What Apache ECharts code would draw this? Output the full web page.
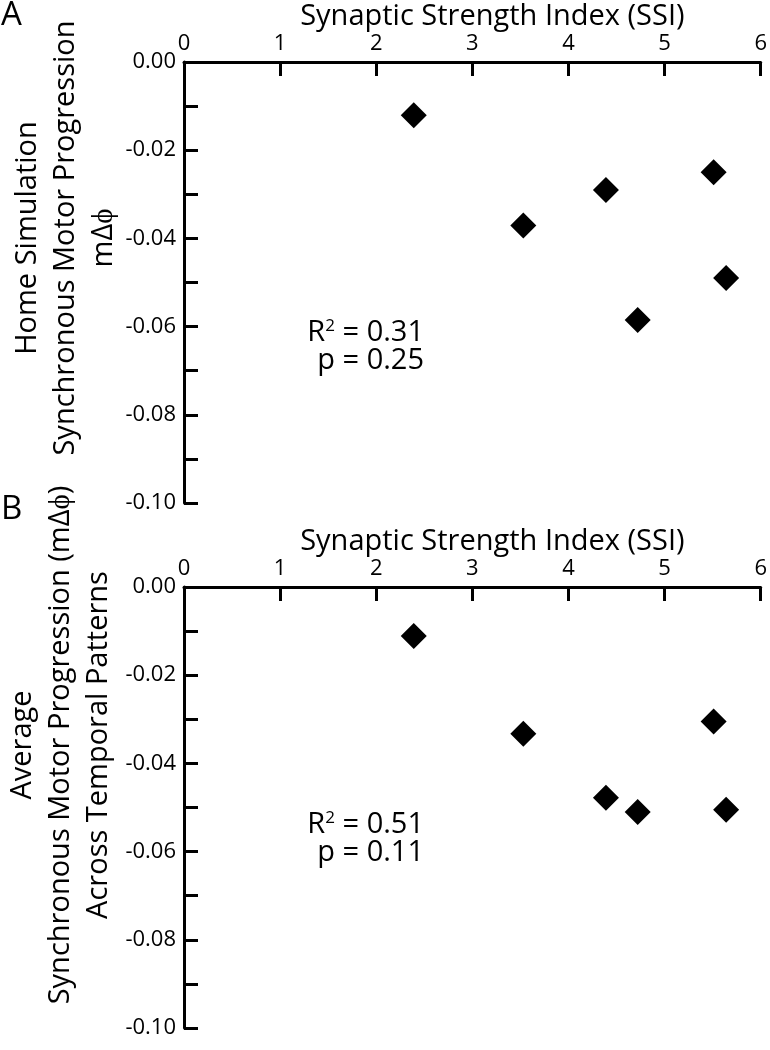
<!DOCTYPE html>
<html>
<head>
<meta charset="utf-8">
<script src="https://cdn.jsdelivr.net/npm/echarts@6/dist/echarts.min.js"></script>
<style>
  html, body { margin: 0; padding: 0; background: #fff; }
  #chart { width: 770px; height: 1050px; }
</style>
</head>
<body>
<div id="chart"></div>
<script>
// ---- data ----
const ssi = [2.39, 3.53, 4.39, 4.72, 5.51, 5.64];
const homeSimulation = [-0.0121, -0.0371, -0.0290, -0.0585, -0.0250, -0.0490];
const acrossTemporal = [-0.0111, -0.0333, -0.0478, -0.0510, -0.0305, -0.0505];
const xTitle = 'Synaptic Strength Index (SSI)';
const yTitleA = ['Home Simulation', 'Synchronous Motor Progression', 'mΔϕ'];
const yTitleB = ['Average', 'Synchronous Motor Progression (mΔϕ)', 'Across Temporal Patterns'];
const statsA = { r2: '0.31', p: '0.25' };
const statsB = { r2: '0.51', p: '0.11' };
const xRange = [0, 6, 1];
const yRange = [-0.10, 0.00, 0.02];

const FONT = 'Open Sans';
const chart = echarts.init(document.getElementById('chart'), null, { renderer: 'canvas' });

function xAxisFor(gridIndex) {
  return {
    gridIndex, type: 'value', position: 'top',
    min: xRange[0], max: xRange[1], interval: xRange[2],
    name: xTitle, nameLocation: 'middle', nameGap: 31,
    nameTextStyle: { fontFamily: FONT, fontSize: 29, color: '#000', padding: [0, 0, 0, 40] },
    axisLine: { show: true, onZero: false, lineStyle: { color: '#000', width: 3 } },
    axisTick: { show: true, inside: true, length: 14, lineStyle: { color: '#000', width: 3 } },
    axisLabel: { fontFamily: FONT, fontSize: 22, color: '#000', margin: 7 },
    splitLine: { show: false }
  };
}
function yAxisFor(gridIndex) {
  return {
    gridIndex, type: 'value',
    min: yRange[0], max: yRange[1], interval: yRange[2],
    axisLine: { show: true, onZero: false, lineStyle: { color: '#000', width: 3 } },
    axisTick: { show: true, inside: true, length: 14, lineStyle: { color: '#000', width: 3 } },
    minorTick: { show: true, splitNumber: 2, length: 14, lineStyle: { color: '#000', width: 3 } },
    axisLabel: { fontFamily: FONT, fontSize: 22, color: '#000', margin: 8,
      formatter: v => (Math.abs(v) < 1e-9 ? 0 : v).toFixed(2) },
    splitLine: { show: false }
  };
}
function statText(stats, right, baseline) {
  return [
    { type: 'text', right: 770 - right, top: baseline - 27,
      style: { text: 'R{s|2} = ' + stats.r2, fontFamily: FONT, fontSize: 29, fill: '#000',
        rich: { s: { fontFamily: FONT, fontSize: 17, verticalAlign: 'top', padding: [0, 0, 12, 0] } } } },
    { type: 'text', right: 770 - right, top: baseline + 1,
      style: { text: 'p = ' + stats.p, fontFamily: FONT, fontSize: 29, fill: '#000' } }
  ];
}
function yTitle(lines, cx, cy) {
  return { type: 'text', x: cx, y: cy, rotation: Math.PI / 2,
    style: { text: lines.join('\n'), fontFamily: FONT, fontSize: 29, lineHeight: 38,
      fill: '#000', align: 'center', verticalAlign: 'middle' } };
}

const option = {
  backgroundColor: '#fff',
  animation: false,
  grid: [
    { left: 184, top: 62, width: 577, height: 441 },
    { left: 184, top: 587, width: 577, height: 441 }
  ],
  xAxis: [xAxisFor(0), xAxisFor(1)],
  yAxis: [yAxisFor(0), yAxisFor(1)],
  series: [
    { type: 'scatter', xAxisIndex: 0, yAxisIndex: 0, symbol: 'diamond', symbolSize: 26,
      itemStyle: { color: '#000', opacity: 1 }, data: ssi.map((x, i) => [x, homeSimulation[i]]) },
    { type: 'scatter', xAxisIndex: 1, yAxisIndex: 1, symbol: 'diamond', symbolSize: 26,
      itemStyle: { color: '#000', opacity: 1 }, data: ssi.map((x, i) => [x, acrossTemporal[i]]) }
  ],
  graphic: [
    { type: 'text', left: 1, top: -1, style: { text: 'A', fontFamily: FONT, fontSize: 33, fill: '#000' } },
    { type: 'text', left: 1, top: 493, style: { text: 'B', fontFamily: FONT, fontSize: 33, fill: '#000' } },
    yTitle(yTitleA, 66, 238),
    yTitle(yTitleB, 61, 745),
    ...statText(statsA, 424, 345),
    ...statText(statsB, 424, 837)
  ]
};
chart.setOption(option);
</script>
</body>
</html>
